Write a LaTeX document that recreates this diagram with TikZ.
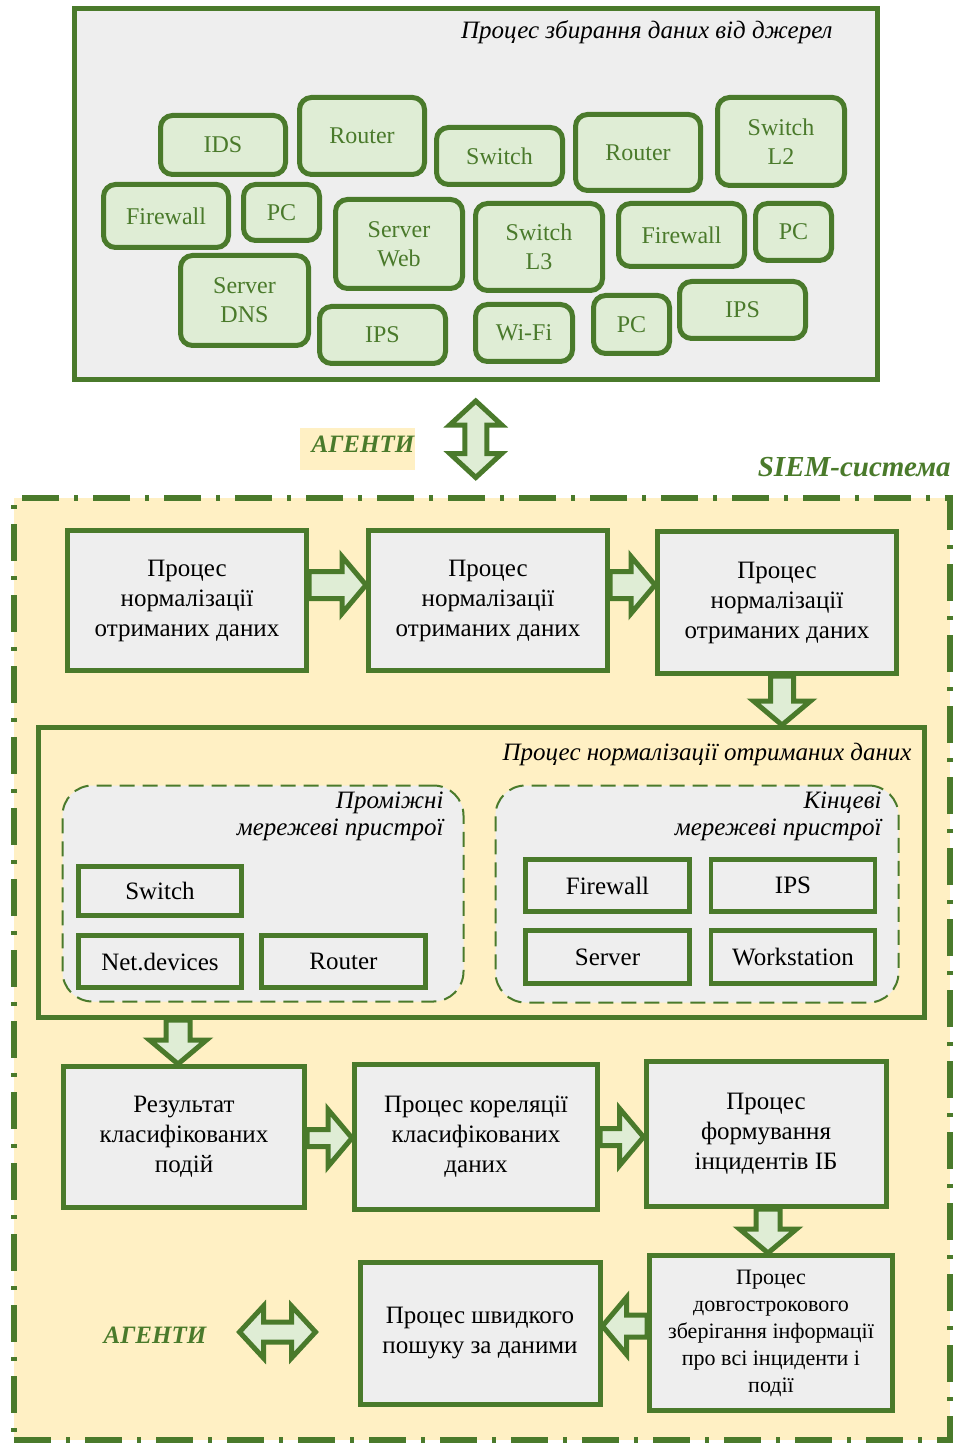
\documentclass[tikz,border=0pt]{standalone}
\usepackage{fontspec}
\setmainfont{Liberation Serif}
\usetikzlibrary{calc}

\definecolor{dgreen}{HTML}{4A7A2B}
\definecolor{lgreen}{HTML}{DFEDD5}
\definecolor{pgray}{HTML}{EEEEEE}
\definecolor{sand}{HTML}{FFF0C4}

% block arrow from #2 to #3 (tip), optional half width of the shaft
\newcommand\flowarrow[3][6pt]{%
  \coordinate (fah) at ($(#3)!12pt!(#2)$);
  \draw[blk] ($(#2)!#1!90:(#3)$) -- ($(fah)!#1!90:(#3)$) -- ($(fah)!14.25pt!90:(#3)$)
    -- (#3) -- ($(fah)!14.25pt!-90:(#3)$) -- ($(fah)!#1!-90:(#3)$) -- ($(#2)!#1!-90:(#3)$) -- cycle;}

% block arrow with heads at both ends: #1 shaft half width, #2 head half width, #3 tip A, #4 tip B
\newcommand\twinarrow[4]{%
  \coordinate (tha) at ($(#3)!12pt!(#4)$);
  \coordinate (thb) at ($(#4)!12pt!(#3)$);
  \draw[blk] (#3) -- ($(tha)!#2!90:(#4)$) -- ($(tha)!#1!90:(#4)$) -- ($(thb)!#1!90:(#4)$)
    -- ($(thb)!#2!90:(#4)$) -- (#4) -- ($(thb)!#2!-90:(#4)$) -- ($(thb)!#1!-90:(#4)$)
    -- ($(tha)!#1!-90:(#4)$) -- ($(tha)!#2!-90:(#4)$) -- cycle;}

\tikzset{
  sz/.style 2 args={minimum width=#1*0.5pt, minimum height=#2*0.5pt},
  dev/.style={draw=dgreen, fill=lgreen, line width=2.5pt, rounded corners=6pt, text=dgreen,
    font=\fontsize{12}{14.5}\selectfont, align=center, inner sep=0pt},
  proc/.style={draw=dgreen, fill=pgray, line width=2.5pt, align=center, inner sep=0pt,
    font=\fontsize{12.5}{15}\selectfont},
  item/.style={draw=dgreen, fill=pgray, line width=2.3pt, inner sep=0pt,
    font=\fontsize{12.5}{15}\selectfont},
  group/.style={draw=dgreen, fill=pgray, line width=1pt, dash pattern=on 7.5pt off 4pt,
    rounded corners=15pt},
  blk/.style={draw=dgreen, fill=lgreen, line width=2.5pt, line join=miter},
  ttl/.style={font=\itshape\fontsize{12.5}{13.5}\selectfont, inner sep=0pt, align=right},
  agent/.style={text=dgreen, inner sep=0pt, font=\bfseries\itshape\fontsize{12.5}{15}\selectfont},
}

\begin{document}
\begin{tikzpicture}[x=0.5pt,y=-0.5pt]
\useasboundingbox (0,0) rectangle (955,1443);

% ---------- data sources ----------
\node[draw=dgreen, fill=pgray, line width=2.5pt, sz={802.5}{371}] (top) at (475.75,194) {};
\node[ttl, anchor=east] (toptitle) at (833,32) {Процес збирання даних від джерел};

\node[dev, sz={125}{59}] (ids) at (223,145) {IDS};
\node[dev, sz={125}{77}] (r1) at (362,136) {Router};
\node[dev, sz={126}{57}] (sw1) at (499.5,156) {Switch};
\node[dev, sz={125}{76}] (r2) at (638,152.5) {Router};
\node[dev, sz={127}{88}] (swl2) at (781,141.5) {Switch\\L2};
\node[dev, sz={125}{63}] (fw1) at (166,216) {Firewall};
\node[dev, sz={76}{56}] (pc1) at (281.5,212.5) {PC};
\node[dev, sz={127}{89}] (srvweb) at (399,244) {Server\\Web};
\node[dev, sz={127}{87}] (swl3) at (539,247) {Switch\\L3};
\node[dev, sz={126}{63}] (fw2) at (681.5,235) {Firewall};
\node[dev, sz={76}{57}] (pc2) at (793.5,232) {PC};
\node[dev, sz={128}{90}] (srvdns) at (244.5,300.5) {Server\\DNS};
\node[dev, sz={126}{57}] (ips1) at (382.5,335) {IPS};
\node[dev, sz={97}{57}] (wifi) at (524,333) {Wi-Fi};
\node[dev, sz={76}{58}] (pc3) at (631.5,324.5) {PC};
\node[dev, sz={126}{57}] (ips2) at (742.5,310) {IPS};

% ---------- SIEM system ----------
\node[draw=dgreen, fill=sand, line width=3pt, dash pattern=on 18.5pt off 7.5pt on 2pt off 7.5pt,
  sz={936}{942}] (siem) at (482,969) {};
\node[agent, anchor=east, font=\bfseries\itshape\fontsize{14.5}{16}\selectfont] (siemlabel) at (951,467) {SIEM-система};

\node[fill=sand, sz={115}{42}, inner sep=0pt] (agbox) at (357.5,449) {};
\node[agent] (agtop) at (363,444) {АГЕНТИ};
\coordinate (agA) at ($(top.south)+(0,19)$);
\coordinate (agB0) at (agA |- siem.north);
\coordinate (agB) at ($(agB0)+(0,-17.5)$);
\twinarrow{5.5pt}{13pt}{agA}{agB}

% first row
\node[proc, sz={239}{140}] (b1) at (187,600.5) {Процес\\нормалізації\\отриманих даних};
\node[proc, sz={239}{140}] (b2) at (488,600.5) {Процес\\нормалізації\\отриманих даних};
\node[proc, sz={239}{142}] (b3) at (777,602.5) {Процес\\нормалізації\\отриманих даних};

% normalisation block
\node[draw=dgreen, fill=sand, line width=2.5pt, sz={886}{290}] (big) at (481.5,872.5) {};
\node[ttl, anchor=east] (bigtitle) at (912,754) {Процес нормалізації отриманих даних};

\node[group, sz={401}{216}] (gmid) at (263,893.5) {};
\node[ttl, anchor=east] (gmidtitle) at (444,816.5) {Проміжні\\мережеві пристрої};
\node[item, sz={163}{49}] (isw) at (160,891) {Switch};
\node[item, sz={163}{52}] (inet) at (160,961.5) {Net.devices};
\node[item, sz={164}{52}] (irt) at (343.5,961.5) {Router};

\node[group, sz={403}{217}] (gend) at (697,894) {};
\node[ttl, anchor=east] (gendtitle) at (882,816) {Кінцеві\\мережеві пристрої};
\node[item, sz={164}{52}] (ifw) at (607.5,885.5) {Firewall};
\node[item, sz={164}{52}] (iips) at (793,885.5) {IPS};
\node[item, sz={164}{53}] (isrv) at (607.5,957) {Server};
\node[item, sz={164}{53}] (iws) at (793,957) {Workstation};

% third row
\node[proc, sz={241}{141}] (c1) at (184,1137) {Результат\\класифікованих\\подій};
\node[proc, sz={243}{145}] (c2) at (476,1137) {Процес кореляції\\класифікованих\\даних};
\node[proc, sz={240}{145}] (c3) at (766,1134) {Процес\\формування\\інцидентів ІБ};

% fourth row
\node[proc, sz={240}{142}] (d1) at (480,1333) {Процес швидкого\\пошуку за даними};
\node[proc, sz={243}{155}, font=\fontsize{11}{13.5}\selectfont] (d2) at (771,1333)
  {Процес\\довгострокового\\зберігання інформації\\про всі інциденти і\\події};

\node[agent] (agbot) at (155,1335) {АГЕНТИ};
\coordinate (agl) at (239.5,1332);
\coordinate (agr) at (315.5,1332);
\twinarrow{5pt}{13pt}{agl}{agr}

% ---------- flow ----------
\coordinate (f1a) at ($(b1.east)+(0,-15.5)$);
\coordinate (f1b) at (b2.west |- f1a);
\flowarrow[6.75pt]{f1a}{f1b}
\coordinate (f2a) at ($(b2.east)+(0,-15.5)$);
\coordinate (f2b) at (b3.west |- f2a);
\flowarrow[6.75pt]{f2a}{f2b}
\coordinate (f3a) at ($(b3.south)+(5,0)$);
\coordinate (f3b) at (f3a |- big.north);
\flowarrow[5.75pt]{f3a}{f3b}
\coordinate (f4b) at ($(c1.north)+(-6,0)$);
\coordinate (f4a) at (f4b |- big.south);
\flowarrow[6pt]{f4a}{f4b}
\coordinate (f5a) at ($(c1.east)+(0,1)$);
\coordinate (f5b) at (c2.west |- f5a);
\flowarrow[4.25pt]{f5a}{f5b}
\coordinate (f6a) at (c2.east);
\coordinate (f6b) at (c3.west |- f6a);
\flowarrow[4.25pt]{f6a}{f6b}
\coordinate (f7a) at ($(c3.south)+(2,0)$);
\coordinate (f7b) at (f7a |- d2.north);
\flowarrow[6pt]{f7a}{f7b}
\coordinate (f8a) at ($(d2.west)+(0,-7)$);
\coordinate (f8b) at (d1.east |- f8a);
\flowarrow[5.5pt]{f8a}{f8b}

\end{tikzpicture}
\end{document}
